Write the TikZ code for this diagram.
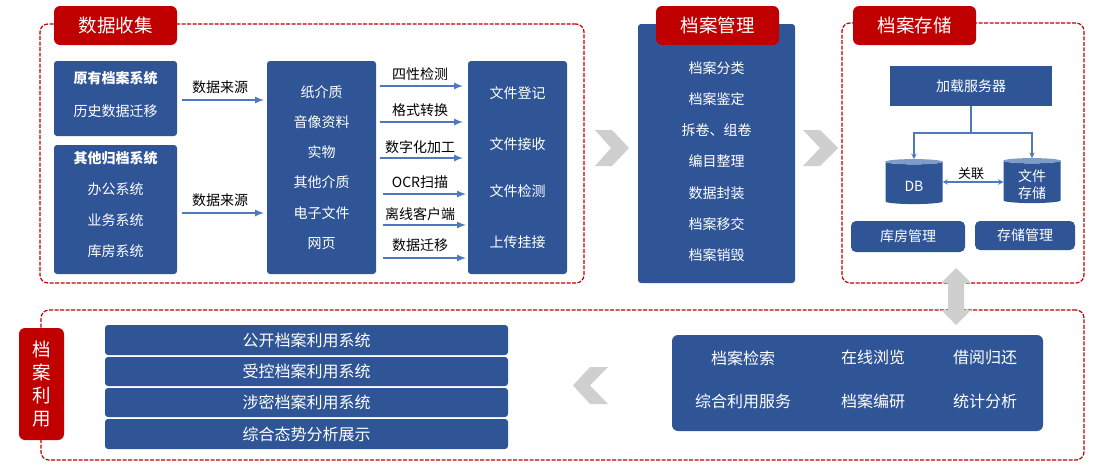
\documentclass[tikz,border=0pt]{standalone}
\usepackage{fontspec}
\setmainfont{Noto Sans CJK SC}
\usetikzlibrary{shapes,arrows,positioning,calc}
\definecolor{boxblue}{HTML}{2F5597}
\definecolor{flowblue}{HTML}{4F79BE}
\definecolor{capblue}{HTML}{7F9CC8}
\definecolor{titlered}{HTML}{C00000}
\definecolor{markgray}{HTML}{CFCFCF}
\tikzset{
    bluebox/.style={fill=boxblue, text=white, rounded corners=3pt, outer sep=0pt, inner sep=0pt, align=center, font=\fontsize{14}{30.2}\selectfont},
    listtext/.style={text=white, inner sep=0pt, align=center, font=\fontsize{14}{31.3}\selectfont},
    bartext/.style={text=white, inner sep=0pt, font=\fontsize{16}{20}\selectfont},
    linelabel/.style={text=black, inner sep=0pt, xshift=-2pt, font=\fontsize{14}{16}\selectfont},
    titlebox/.style={fill=titlered, text=white, rounded corners=6pt, outer sep=0pt, inner sep=0pt, align=center, font=\fontsize{18.5}{23}\selectfont},
    dashframe/.style={draw=titlered, dash pattern=on 4pt off 1.5pt, line width=1.2pt, rounded corners=8pt, outer sep=0pt, inner sep=0pt},
    flow/.style={-latex, draw=flowblue, line width=2pt},
    treeline/.style={draw=flowblue, line width=1.4pt},
    store/.style={cylinder, shape border rotate=90, aspect=0.28, cylinder uses custom fill, cylinder body fill=boxblue, cylinder end fill=capblue, minimum width=57pt, minimum height=45pt, inner sep=0pt, outer sep=0pt, font=\fontsize{14}{17}\selectfont},
    storetext/.style={text=white, inner sep=0pt, align=center, font=\fontsize{14}{17}\selectfont},
    chevron/.style={fill=markgray, draw=none}
}
\begin{document}
\begin{tikzpicture}[x=1pt, y=-1pt]
    \useasboundingbox (0,0) rectangle (1093,471);
    % frames
    \node[dashframe, minimum width=544pt, minimum height=259pt, anchor=north west] (collect) at (40,24) {};
    \node[dashframe, minimum width=242pt, minimum height=260pt, anchor=north west] (storage) at (842,23) {};
    \node[dashframe, minimum width=1043pt, minimum height=150pt, anchor=north west] (usage) at (41,310) {};

    % data collection
    \node[titlebox, minimum width=123pt, minimum height=39pt, anchor=north west] (collecttitle) at (54,6) {数据收集};
    \node[bluebox, minimum width=123pt, minimum height=75pt, anchor=north west] (legacy) at (54,61) {};
    \node[bluebox, minimum width=123pt, minimum height=129pt, below=9pt of legacy] (other) {};
    \node[listtext, below=10pt of legacy.north, font=\fontsize{14}{33}\selectfont] (legacylist) {\textbf{原有档案系统}\\历史数据迁移};
    \node[listtext, below=6pt of other.north, font=\fontsize{14}{31}\selectfont] (otherlist) {\textbf{其他归档系统}\\办公系统\\业务系统\\库房系统};
    \node[bluebox, minimum width=109pt, minimum height=213pt, anchor=north west] (media) at (267,61) {纸介质\\音像资料\\实物\\其他介质\\电子文件\\网页};
    \node[bluebox, minimum width=99pt, minimum height=213pt, right=92pt of media] (intake) {文件登记\\[21.5pt]文件接收\\[16.5pt]文件检测\\[21pt]上传挂接};

    \coordinate (src1) at (media.west |- 0,100);
    \coordinate (src2) at (media.west |- 0,213);
    \draw[flow, shorten <=5pt, shorten >=3pt] (legacy.east |- src1) -- (src1) node[midway, above=5pt, linelabel] (srclabel1) {数据来源};
    \draw[flow, shorten <=5pt, shorten >=3pt] (other.east |- src2) -- (src2) node[midway, above=5pt, linelabel] (srclabel2) {数据来源};

    \coordinate (step1) at (intake.west |- 0,86);
    \coordinate (step2) at (intake.west |- 0,122);
    \coordinate (step3) at (intake.west |- 0,158);
    \coordinate (step4) at (intake.west |- 0,194);
    \coordinate (step5) at (intake.west |- 0,225);
    \coordinate (step6) at (intake.west |- 0,258);
    \draw[flow, shorten <=4pt, shorten >=5pt] (media.east |- step1) -- (step1) node[midway, above=4pt, linelabel] (steplabel1) {四性检测};
    \draw[flow, shorten <=4pt, shorten >=5pt] (media.east |- step2) -- (step2) node[midway, above=4pt, linelabel] (steplabel2) {格式转换};
    \draw[flow, shorten <=4pt, shorten >=5pt] (media.east |- step3) -- (step3) node[midway, above=3pt, linelabel] (steplabel3) {数字化加工};
    \draw[flow, shorten <=7pt, shorten >=2pt] (media.east |- step4) -- (step4) node[midway, above=4pt, linelabel] (steplabel4) {OCR扫描};
    \draw[flow, shorten <=7pt, shorten >=2pt] (media.east |- step5) -- (step5) node[midway, above=3pt, linelabel] (steplabel5) {离线客户端};
    \draw[flow, shorten <=7pt, shorten >=2pt] (media.east |- step6) -- (step6) node[midway, above=5pt, linelabel] (steplabel6) {数据迁移};

    % arrows between the stages
    \fill[chevron] (595,130) -- (612,130) -- (629,148) -- (612,166) -- (595,166) -- (611,148) -- cycle;
    \fill[chevron] (803,130) -- (820,130) -- (838,148) -- (820,166) -- (803,166) -- (820,148) -- cycle;

    % management
    \node[bluebox, minimum width=157pt, minimum height=259pt, anchor=north west] (manage) at (638,24) {};
    \node[titlebox, minimum width=123pt, minimum height=39pt, anchor=north west] (managetitle) at (656,6) {档案管理};
    \node[listtext, below=37pt of manage.north] (managelist) {档案分类\\档案鉴定\\拆卷、组卷\\编目整理\\数据封装\\档案移交\\档案销毁};

    % storage
    \node[titlebox, minimum width=123pt, minimum height=39pt, anchor=north west] (storagetitle) at (853,6) {档案存储};
    \node[bluebox, rounded corners=0pt, minimum width=162pt, minimum height=40pt, anchor=north west] (server) at (890,66) {加载服务器};
    \node[store] (db) at (914,183) {\phantom{DB}};
    \node[store] (filestore) at (1032,182) {\phantom{DB}};
    \node[storetext, yshift=-3pt] (dblabel) at (db.center) {DB};
    \node[storetext, yshift=-3pt] (filelabel) at (filestore.center) {文件\\存储};
    \coordinate (fork) at (server.south |- 0,133);
    \draw[treeline] (server.south) -- (fork);
    \draw[treeline, -stealth] (fork) -| (db.north);
    \draw[treeline, -stealth] (fork) -| (filestore.north);
    \draw[treeline, stealth-stealth] (db.east |- 0,182) -- (filestore.west |- 0,182) node[midway, above=2pt, linelabel, font=\fontsize{13}{15}\selectfont] (linklabel) {关联};
    \node[bluebox, rounded corners=5pt, minimum width=114pt, minimum height=31pt, anchor=north west] (stockroom) at (851,221) {库房管理};
    \node[bluebox, rounded corners=5pt, minimum width=100pt, minimum height=29pt, right=10pt of stockroom.north east, anchor=north west] (storemanage) {存储管理};

    % double arrow
    \fill[chevron] (956,268) -- (971,283) -- (964,283) -- (964,310) -- (971,310) -- (956,325) -- (941,310) -- (948,310) -- (948,283) -- (941,283) -- cycle;

    % usage
    \node[titlebox, minimum width=45pt, minimum height=112pt, anchor=north west] (usagetitle) at (19,328) {档\\案\\利\\用};
    \node[bluebox, minimum width=403pt, minimum height=30pt, anchor=north west, bartext] (open) at (105,325) {公开档案利用系统};
    \node[bluebox, minimum width=403pt, minimum height=29pt, below=2pt of open, bartext] (controlled) {受控档案利用系统};
    \node[bluebox, minimum width=403pt, minimum height=29pt, below=2pt of controlled, bartext] (secret) {涉密档案利用系统};
    \node[bluebox, minimum width=403pt, minimum height=30pt, below=2pt of secret, bartext] (overview) {综合态势分析展示};
    \fill[chevron] (608,367) -- (590,367) -- (573,385.5) -- (590,404) -- (608,404) -- (590,385.5) -- cycle;

    \node[bluebox, rounded corners=6pt, minimum width=371pt, minimum height=96pt, anchor=north west] (services) at (672,335) {};
    \node[bartext] (search) at (743,358) {档案检索};
    \node[bartext] (browse) at (873,357) {在线浏览};
    \node[bartext] (lend) at (985,357) {借阅归还};
    \node[bartext] (general) at (743,401) {综合利用服务};
    \node[bartext] (compile) at (873,401) {档案编研};
    \node[bartext] (stats) at (985,401) {统计分析};
\end{tikzpicture}
\end{document}
